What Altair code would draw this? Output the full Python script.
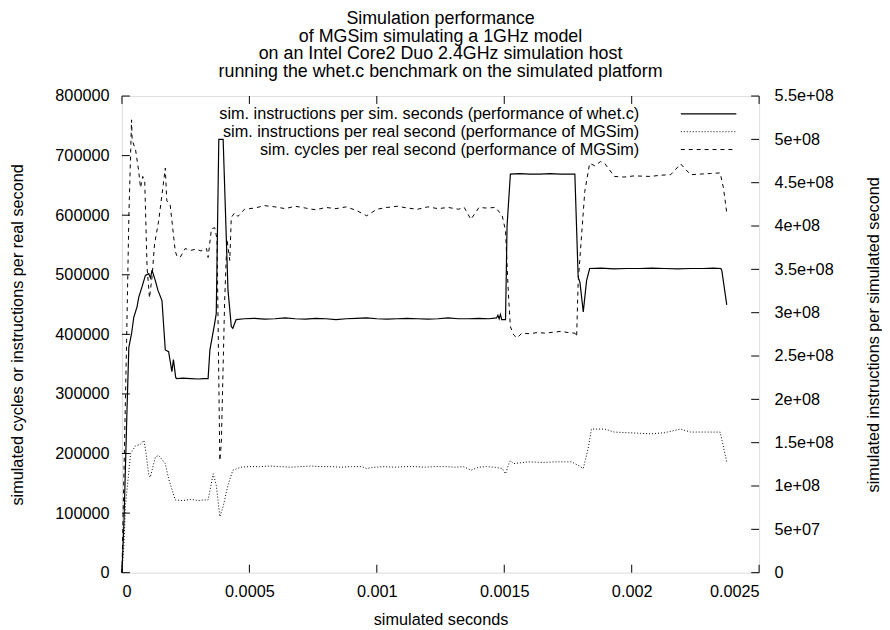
import altair as alt
import pandas as pd

FONT = "Liberation Sans"

title_lines = [
    "Simulation performance",
    "of MGSim simulating a 1GHz model",
    "on an Intel Core2 Duo 2.4GHz simulation host",
    "running the whet.c benchmark on the simulated platform",
]
x_label = "simulated seconds"
y_left_label = "simulated cycles or instructions per real second"
y_right_label = "simulated instructions per simulated second"
legend_labels = [
    "sim. instructions per sim. seconds (performance of whet.c)",
    "sim. instructions per real second (performance of MGSim)",
    "sim. cycles per real second (performance of MGSim)",
]
x_ticks = [0, 0.0005, 0.001, 0.0015, 0.002, 0.0025]
y_left_ticks = [0, 100000, 200000, 300000, 400000, 500000, 600000, 700000, 800000]
y_right_ticks = [0, 5e7, 1e8, 1.5e8, 2e8, 2.5e8, 3e8, 3.5e8, 4e8, 4.5e8, 5e8, 5.5e8]

# sim. instructions per sim. second (right axis)
sim_x = [0, 0.000008, 0.00002, 0.000027, 0.0000377, 0.0000466, 0.0000595, 0.000066,
         0.000079, 0.000092, 0.000105, 0.000112, 0.000118, 0.000131, 0.000141, 0.000157,
         0.00017, 0.000183, 0.000196, 0.000202, 0.000211, 0.000215, 0.00024, 0.00027,
         0.0003, 0.00032, 0.000338, 0.000345, 0.000364, 0.00037, 0.000375, 0.00038,
         0.000397, 0.000416, 0.000422, 0.000429, 0.000435, 0.000448,
         0.00048, 0.00052, 0.00056, 0.0006, 0.00064, 0.00068, 0.00072, 0.00076, 0.0008,
         0.00084, 0.00088, 0.00092, 0.00096, 0.001, 0.00104, 0.00108, 0.00112, 0.00116,
         0.0012, 0.00124, 0.00128, 0.00132, 0.00136, 0.0014, 0.00144,
         0.00147, 0.001475, 0.00148, 0.001485, 0.00149, 0.001505, 0.001511, 0.001524,
         0.00156, 0.0016, 0.00164, 0.00168, 0.00172, 0.00176, 0.001777, 0.00179,
         0.001797, 0.00181, 0.001823, 0.001835, 0.00188, 0.00193, 0.00198, 0.00203,
         0.00208, 0.00213, 0.00218, 0.00223, 0.00228, 0.00232, 0.00235, 0.002354, 0.002373]
sim_ips = [0, 6.0e7, 1.9e8, 2.6e8, 2.76e8, 2.95e8, 3.07e8, 3.18e8,
           3.3e8, 3.43e8, 3.45e8, 3.4e8, 3.49e8, 3.37e8, 3.26e8, 3.14e8,
           2.57e8, 2.55e8, 2.32e8, 2.46e8, 2.25e8, 2.24e8, 2.245e8, 2.24e8,
           2.235e8, 2.24e8, 2.24e8, 2.57e8, 2.88e8, 2.99e8, 4.0e8, 5.0e8,
           5.0e8, 3.26e8, 3.07e8, 2.84e8, 2.82e8, 2.92e8,
           2.93e8, 2.935e8, 2.925e8, 2.93e8, 2.94e8, 2.93e8, 2.925e8, 2.935e8, 2.93e8,
           2.92e8, 2.93e8, 2.935e8, 2.94e8, 2.93e8, 2.925e8, 2.93e8, 2.935e8, 2.93e8,
           2.925e8, 2.93e8, 2.94e8, 2.93e8, 2.93e8, 2.935e8, 2.93e8,
           2.94e8, 2.97e8, 2.93e8, 2.98e8, 2.92e8, 2.92e8, 4.0e8, 4.6e8,
           4.605e8, 4.6e8, 4.6e8, 4.605e8, 4.6e8, 4.6e8, 4.6e8, 3.41e8,
           3.35e8, 3.01e8, 3.37e8, 3.51e8, 3.515e8, 3.505e8, 3.51e8, 3.51e8,
           3.515e8, 3.51e8, 3.505e8, 3.51e8, 3.51e8, 3.515e8, 3.51e8, 3.48e8, 3.09e8]

# sim. instructions per real second (left axis)
ipr_x = [0, 0.0000078, 0.000014, 0.000034, 0.000053, 0.000072, 0.000086, 0.000092,
         0.000105, 0.000111, 0.000131, 0.000144, 0.00017, 0.000183, 0.000209, 0.00024,
         0.00027, 0.0003, 0.00032, 0.000338, 0.000358, 0.00037, 0.000384, 0.000397,
         0.000416, 0.000435, 0.000467, 0.0005, 0.00054, 0.00058, 0.00062, 0.00066,
         0.0007, 0.00074, 0.00078, 0.00082, 0.00086, 0.0009, 0.00094, 0.00096, 0.00099,
         0.00103, 0.00107, 0.00111, 0.00115, 0.00119, 0.00123, 0.00127, 0.00131,
         0.00134, 0.00137, 0.0014, 0.00143, 0.00146, 0.001492, 0.001505, 0.001518,
         0.001524, 0.001537, 0.001595, 0.00165, 0.0017, 0.001764, 0.00179, 0.00181,
         0.001829, 0.001842, 0.001894, 0.001932, 0.00198, 0.00203, 0.002075, 0.00213,
         0.002192, 0.002231, 0.00228, 0.002347, 0.002373]
ipr = [0, 47000, 114000, 200000, 213000, 215000, 222000, 208000,
       165000, 160000, 194000, 197000, 183000, 158000, 122000, 121000,
       123000, 121000, 122000, 122000, 166000, 147000, 94000, 111000,
       147000, 172000, 177000, 178000, 178000, 179000, 178000, 177000,
       178000, 179000, 178000, 178000, 177000, 178000, 178000, 175000, 177000,
       178000, 177000, 178000, 178000, 177000, 178000, 178000, 177000,
       178000, 172000, 177000, 178000, 177000, 175000, 166000, 183000,
       188000, 183000, 186000, 185000, 186000, 186000, 180000, 175000,
       208000, 241000, 241000, 236000, 235000, 234000, 233000, 235000,
       241000, 236000, 236000, 236000, 186000]

# sim. cycles per real second (left axis)
cyc_x = [0, 0.0000183, 0.0000272, 0.0000377, 0.00004, 0.0000533, 0.000066, 0.0000727,
         0.0000816, 0.0000894, 0.0000984, 0.000108, 0.000118, 0.000128, 0.000144, 0.00017,
         0.000176, 0.000189, 0.000209, 0.000215, 0.000228, 0.000248, 0.00027, 0.00029,
         0.00031, 0.000332, 0.000338, 0.000351, 0.000364, 0.000373, 0.000384, 0.00039,
         0.000403, 0.000412, 0.000423, 0.000429, 0.000442, 0.000455, 0.000481, 0.00052,
         0.00056, 0.0006, 0.00064, 0.00068, 0.00072, 0.00076, 0.0008, 0.00084, 0.00088,
         0.00092, 0.00096, 0.001, 0.00104, 0.00108, 0.00112, 0.00116, 0.0012, 0.00124,
         0.00128, 0.00132, 0.001343, 0.001369, 0.001401, 0.00143, 0.001466, 0.001492,
         0.001505, 0.001516, 0.001524, 0.001537, 0.00155, 0.001569, 0.0016, 0.00163,
         0.00166, 0.0017, 0.001725, 0.00175, 0.001777, 0.001784, 0.00179, 0.001816,
         0.001835, 0.001855, 0.001878, 0.001894, 0.001932, 0.00197, 0.00201, 0.002075,
         0.00211, 0.002153, 0.002192, 0.002231, 0.00227, 0.00231, 0.002347, 0.00236,
         0.002373]
cpr = [0, 390000, 600000, 760000, 726000, 710000, 673000, 646000,
       665000, 657000, 513000, 461000, 496000, 552000, 590000, 679000,
       624000, 618000, 540000, 532000, 529000, 544000, 541000, 543000,
       540000, 544000, 529000, 577000, 579000, 560000, 188000, 219000,
       457000, 560000, 524000, 596000, 604000, 598000, 610000, 612000,
       616000, 614000, 611000, 615000, 612000, 609000, 613000, 611000, 614000,
       608000, 599000, 610000, 613000, 615000, 612000, 610000, 614000, 611000,
       613000, 610000, 613000, 593000, 613000, 612000, 613000, 599000,
       574000, 470000, 413000, 399000, 394000, 402000, 401000, 403000,
       402000, 404000, 405000, 403000, 402000, 396000, 488000, 640000,
       687000, 683000, 690000, 687000, 665000, 664000, 666000, 665000,
       667000, 668000, 686000, 668000, 669000, 670000, 671000, 646000,
       604000]

W, H = 643, 481
TICK = 8
FS = 16.4

xscale = alt.Scale(domain=[0, 0.0025], nice=False, zero=False)
lscale = alt.Scale(domain=[0, 800000], nice=False)
rscale = alt.Scale(domain=[0, 5.5e8], nice=False)

x_axis = alt.Axis(values=x_ticks, format="~g", tickSize=0, domain=False, grid=False,
                  labelPadding=11, labelFontSize=FS, labelFont=FONT, labelColor="black",
                  title=x_label, titleFontSize=FS, titleFont=FONT, titleFontWeight="normal",
                  titleColor="black", titleY=47, titleBaseline="middle")
left_axis = alt.Axis(values=y_left_ticks, format="d", tickSize=0, domain=False, grid=False,
                     labelPadding=13, labelFontSize=FS, labelFont=FONT, labelColor="black",
                     title=y_left_label, titleFontSize=FS, titleFont=FONT,
                     titleFontWeight="normal", titleColor="black", titleAngle=270,
                     titleX=-105, titleY=H / 2, titleAlign="center", titleBaseline="middle")
right_axis = alt.Axis(values=y_right_ticks, orient="right", tickSize=0, domain=False,
                      grid=False, labelPadding=15, labelFontSize=FS, labelFont=FONT,
                      labelColor="black",
                      labelExpr="datum.value == 0 ? '0' : replace(replace(format(datum.value, '.2~e'), 'e+8', 'e+08'), 'e+7', 'e+07')",
                      title=y_right_label, titleFontSize=FS, titleFont=FONT,
                      titleFontWeight="normal", titleColor="black", titleAngle=270,
                      titleX=115, titleY=H / 2, titleAlign="center", titleBaseline="middle")

df_cyc = pd.DataFrame({"x": cyc_x, "v": cpr})
df_ipr = pd.DataFrame({"x": ipr_x, "v": ipr})
df_sim = pd.DataFrame({"x": sim_x, "v": sim_ips})

cyc_line = alt.Chart(df_cyc).mark_line(color="black", strokeWidth=1, strokeDash=[4, 4]).encode(
    x=alt.X("x:Q", scale=xscale, axis=x_axis),
    y=alt.Y("v:Q", scale=lscale, axis=left_axis),
)
ipr_line = alt.Chart(df_ipr).mark_line(color="black", strokeWidth=1, strokeDash=[1, 2]).encode(
    x=alt.X("x:Q", scale=xscale, axis=x_axis),
    y=alt.Y("v:Q", scale=lscale, axis=left_axis),
)
sim_line = alt.Chart(df_sim).mark_line(color="black", strokeWidth=1.2).encode(
    x=alt.X("x:Q", scale=xscale, axis=x_axis),
    y=alt.Y("v:Q", scale=rscale, axis=right_axis),
)

xt = pd.DataFrame({"x": x_ticks})
ylt = pd.DataFrame({"v": y_left_ticks})
yrt = pd.DataFrame({"v": y_right_ticks})

bottom_ticks = alt.Chart(xt).mark_rule(color="black", strokeWidth=1).encode(
    x=alt.X("x:Q", scale=xscale, axis=x_axis), y=alt.value(H), y2=alt.value(H - TICK))
top_ticks = alt.Chart(xt).mark_rule(color="black", strokeWidth=1).encode(
    x=alt.X("x:Q", scale=xscale, axis=x_axis), y=alt.value(0), y2=alt.value(TICK))
left_ticks = alt.Chart(ylt).mark_rule(color="black", strokeWidth=1).encode(
    y=alt.Y("v:Q", scale=lscale, axis=left_axis), x=alt.value(0), x2=alt.value(TICK))
right_ticks = alt.Chart(yrt).mark_rule(color="black", strokeWidth=1).encode(
    y=alt.Y("v:Q", scale=rscale, axis=right_axis), x=alt.value(W - TICK), x2=alt.value(W))

legend_layers = []
dashes = [None, [1, 2], [4, 4]]
for i, lab in enumerate(legend_labels):
    ldf = pd.DataFrame({"label": [lab]})
    yy = 18 + 18 * i
    legend_layers.append(
        alt.Chart(ldf).mark_text(align="right", baseline="middle", font=FONT, fontSize=FS,
                                 color="black").encode(
            text="label:N", x=alt.value(522), y=alt.value(yy)))
    rule_kwargs = dict(color="black", strokeWidth=1.2 if dashes[i] is None else 1)
    if dashes[i] is not None:
        rule_kwargs["strokeDash"] = dashes[i]
    legend_layers.append(
        alt.Chart(ldf).mark_rule(**rule_kwargs).encode(
            x=alt.value(564), x2=alt.value(620), y=alt.value(yy)))

left_layer = alt.layer(cyc_line, ipr_line, bottom_ticks, top_ticks, left_ticks, *legend_layers)
right_layer = alt.layer(sim_line, right_ticks)

chart = alt.layer(left_layer, right_layer).resolve_scale(y="independent").properties(
    width=W, height=H,
    title=alt.TitleParams(text=title_lines, fontSize=18, font=FONT, fontWeight="normal",
                          anchor="middle", lineHeight=18, offset=7, color="black"),
    padding={"left": 115, "top": 86, "right": 124, "bottom": 54},
    autosize=alt.AutoSizeParams(type="none"),
).configure_view(stroke="black", strokeWidth=1.2).configure(background="white")

chart.save("out.html", embed_options={"renderer": "svg", "actions": False})
